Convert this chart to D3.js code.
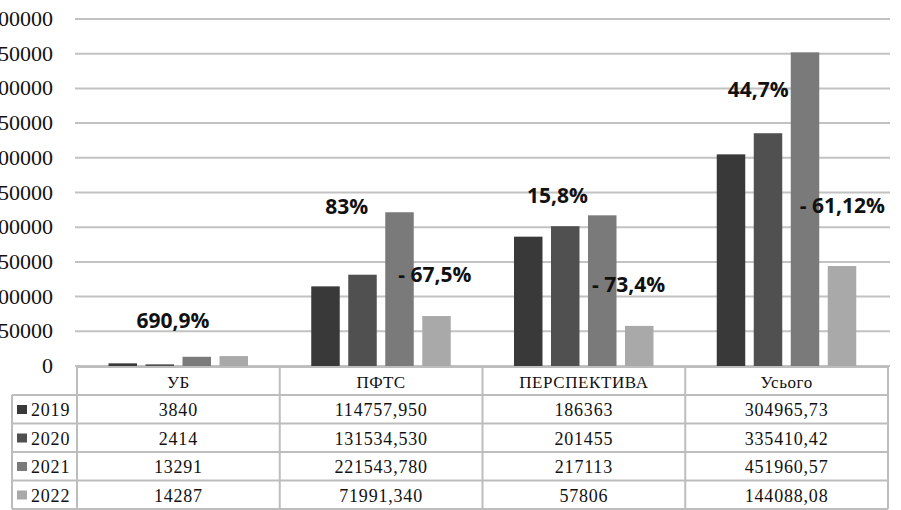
<!DOCTYPE html>
<html>
<head>
<meta charset="utf-8">
<script src="https://cdn.jsdelivr.net/npm/d3@7"></script>
<style>
  body { margin: 0; background: #fff; }
  svg { display: block; }
</style>
</head>
<body>
<svg id="chart" width="901" height="510"></svg>
<script>
// categories and series
var categories = ["УБ", "ПФТС", "ПЕРСПЕКТИВА", "Усього"];
var years = ["2019", "2020", "2021", "2022"];
var values2019 = [3840, 114757.95, 186363, 304965.73];
var values2020 = [2414, 131534.53, 201455, 335410.42];
var values2021 = [13291, 221543.78, 217113, 451960.57];
var values2022 = [14287, 71991.34, 57806, 144088.08];

// table labels as printed
var labels2019 = ["3840", "114757,950", "186363", "304965,73"];
var labels2020 = ["2414", "131534,530", "201455", "335410,42"];
var labels2021 = ["13291", "221543,780", "217113", "451960,57"];
var labels2022 = ["14287", "71991,340", "57806", "144088,08"];

var yTicks = [0, 50000, 100000, 150000, 200000, 250000, 300000, 350000, 400000, 450000, 500000];
var colors = ["#393939", "#505050", "#7a7a7a", "#a9a9a9"];

// percent notes, tied to a bar (category, year)
var notes = [
    {text: "690,9%", cat: "УБ", year: "2021", dx: -46, dy: -29},
    {text: "83%", cat: "ПФТС", year: "2021", dx: -60, dy: 2},
    {text: "- 67,5%", cat: "ПФТС", year: "2022", dx: -24, dy: -34},
    {text: "15,8%", cat: "ПЕРСПЕКТИВА", year: "2021", dx: -61, dy: -12},
    {text: "- 73,4%", cat: "ПЕРСПЕКТИВА", year: "2022", dx: -33, dy: -34},
    {text: "44,7%", cat: "Усього", year: "2021", dx: -63, dy: 45},
    {text: "- 61,12%", cat: "Усього", year: "2022", dx: -28, dy: -53}
];

var series = [values2019, values2020, values2021, values2022];
var seriesLabels = [labels2019, labels2020, labels2021, labels2022];

var svg = d3.select("#chart");

var plotLeft = 77, plotRight = 888, plotTop = 19, plotBottom = 366;

var x0 = d3.scaleBand()
    .domain(categories)
    .range([plotLeft, plotRight]);

var x1 = d3.scaleBand()
    .domain(years)
    .range([31.5, 171])
    .paddingInner(0.23);

var y = d3.scaleLinear()
    .domain([0, 500000])
    .range([plotBottom, plotTop]);

//Gridlines
svg.append("g")
    .selectAll("line")
    .data(yTicks)
    .enter().append("line")
    .attr("x1", 75)
    .attr("x2", 890)
    .attr("y1", function(d) { return y(d); })
    .attr("y2", function(d) { return y(d); })
    .attr("stroke", "#c2c2c2")
    .attr("stroke-width", 2);

//Y labels
svg.append("g")
    .selectAll("text")
    .data(yTicks)
    .enter().append("text")
    .attr("x", 53)
    .attr("y", function(d) { return y(d) + 7; })
    .attr("text-anchor", "end")
    .attr("font-family", "Liberation Serif, Times New Roman, serif")
    .attr("font-size", 22)
    .attr("fill", "#111")
    .text(function(d) { return d; });

//Bars
var groups = svg.append("g")
    .selectAll("g")
    .data(categories)
    .enter().append("g")
    .attr("transform", function(d) { return "translate(" + x0(d) + ",0)"; });

groups.selectAll("rect")
    .data(function(d, i) {
        return years.map(function(yr, k) { return {year: yr, value: series[k][i], k: k}; });
    })
    .enter().append("rect")
    .attr("x", function(d) { return x1(d.year); })
    .attr("width", x1.bandwidth())
    .attr("y", function(d) { return y(d.value); })
    .attr("height", function(d) { return plotBottom - y(d.value); })
    .attr("fill", function(d) { return colors[d.k]; });

//Notes
svg.append("g")
    .selectAll("text")
    .data(notes)
    .enter().append("text")
    .attr("x", function(d) { return x0(d.cat) + x1(d.year) + d.dx; })
    .attr("y", function(d) {
        var v = series[years.indexOf(d.year)][categories.indexOf(d.cat)];
        return y(v) + d.dy;
    })
    .attr("font-family", "Open Sans, Lato, sans-serif")
    .attr("font-weight", "bold")
    .attr("font-size", 21)
    .attr("fill", "#111")
    .text(function(d) { return d.text; });

//Data table
var tableLeft = 12, headerTop = 367, rowH = 28.5;
var headerBottom = 395;
var tableBottom = headerBottom + rowH * years.length;
var tableFont = "Liberation Serif, Times New Roman, serif";
var lineColor = "#bdbdbd";
var table = svg.append("g");

// horizontal lines
table.append("line")
    .attr("x1", plotLeft).attr("x2", plotRight)
    .attr("y1", headerTop).attr("y2", headerTop)
    .attr("stroke", lineColor).attr("stroke-width", 2);
table.selectAll(".hline")
    .data(d3.range(years.length + 1))
    .enter().append("line")
    .attr("x1", tableLeft).attr("x2", plotRight)
    .attr("y1", function(i) { return headerBottom + i * rowH; })
    .attr("y2", function(i) { return headerBottom + i * rowH; })
    .attr("stroke", lineColor).attr("stroke-width", 2);

// vertical lines
table.append("line")
    .attr("x1", tableLeft).attr("x2", tableLeft)
    .attr("y1", headerBottom).attr("y2", tableBottom)
    .attr("stroke", lineColor).attr("stroke-width", 2);
table.selectAll(".vline")
    .data(categories.concat(["end"]))
    .enter().append("line")
    .attr("x1", function(d) { return d === "end" ? plotRight : x0(d); })
    .attr("x2", function(d) { return d === "end" ? plotRight : x0(d); })
    .attr("y1", headerTop).attr("y2", tableBottom)
    .attr("stroke", lineColor).attr("stroke-width", 2);

// header
table.selectAll(".head")
    .data(categories)
    .enter().append("text")
    .attr("x", function(d) { return x0(d) + x0.bandwidth() / 2; })
    .attr("y", headerTop + 21)
    .attr("text-anchor", "middle")
    .attr("font-family", tableFont)
    .attr("font-size", 17)
    .attr("letter-spacing", 0.6)
    .attr("fill", "#111")
    .text(function(d) { return d; });

// legend cells
var legendRows = table.selectAll(".leg")
    .data(years)
    .enter().append("g")
    .attr("transform", function(d, i) { return "translate(0," + (headerBottom + i * rowH) + ")"; });

legendRows.append("rect")
    .attr("x", 17).attr("y", 10)
    .attr("width", 10).attr("height", 9)
    .attr("fill", function(d, i) { return colors[i]; });

legendRows.append("text")
    .attr("x", 31).attr("y", 21)
    .attr("font-family", tableFont)
    .attr("font-size", 18)
    .attr("letter-spacing", 0.8)
    .attr("fill", "#111")
    .text(function(d) { return d; });

// cell values
legendRows.selectAll(".cell")
    .data(function(d, i) { return seriesLabels[i]; })
    .enter().append("text")
    .attr("x", function(d, j) { return x0(categories[j]) + x0.bandwidth() / 2; })
    .attr("y", 21)
    .attr("text-anchor", "middle")
    .attr("font-family", tableFont)
    .attr("font-size", 18)
    .attr("letter-spacing", 0.8)
    .attr("fill", "#111")
    .text(function(d) { return d; });
</script>
</body>
</html>
